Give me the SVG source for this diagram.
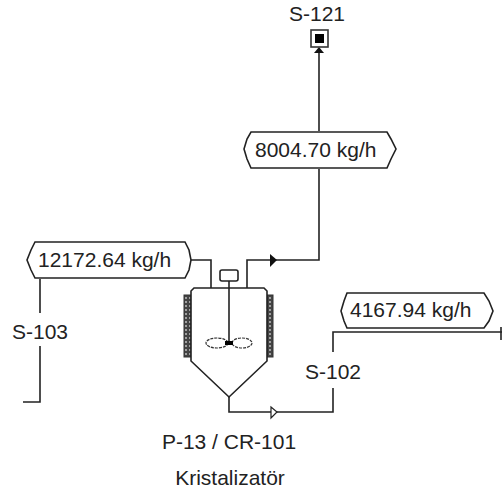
<svg xmlns="http://www.w3.org/2000/svg" width="502" height="493" viewBox="0 0 502 493">
<defs>
<pattern id="coil" width="4" height="4" patternUnits="userSpaceOnUse"><rect width="4" height="4" fill="#444"/><circle cx="2" cy="2" r="0.9" fill="#ccc"/></pattern>
</defs>
<style>
text{font-family:"Liberation Sans",Arial,sans-serif;font-size:21px;fill:#222}
.l{fill:none;stroke:#222;stroke-width:1.6}
.b{fill:#fff;stroke:#222;stroke-width:1.6}
.t{fill:#fff;stroke:#333;stroke-width:1.2;stroke-dasharray:3 1}
</style>
<rect width="502" height="493" fill="#fff"/>
<g id="connectors">
<path class="l" d="M319 53V131M319 169V260H247V288"/>
<path class="l" d="M191 260H211V288"/>
<path class="l" d="M40 279V313M40 346V402H23"/>
<path class="l" d="M229 397V412H333V388M333 352V332H502"/>
<path d="M319 47L324 53H314Z" fill="#111"/>
<path d="M270 254L277 260L270 267Z" fill="#111"/>
<path d="M271 407L277 412L271 418Z" fill="#fff" stroke="#222" stroke-width="1.2"/>
<path class="l" d="M501 327V340"/>
</g>
<g id="S-121">
<rect x="311" y="30" width="17" height="17" fill="#fff" stroke="#333" stroke-width="1.6"/>
<rect x="315" y="34" width="9" height="9" fill="#000"/>
<text x="317" y="21" text-anchor="middle">S-121</text>
</g>
<g id="flow-8004">
<path class="b" d="M251 132H387L391 139L396 149L391 159L387 168H251L247 159L244 149L247 139Z"/>
<text x="255" y="157">8004.70 kg/h</text>
</g>
<g id="flow-12172">
<path class="b" d="M35 242H185L189 250L191 260L189 270L185 278H35L31 270L27 260L31 250Z"/>
<text x="38" y="267">12172.64 kg/h</text>
</g>
<g id="flow-4167">
<path class="b" d="M347 293H484L489 301L493 311L489 321L484 328H347L344 321L341 311L344 301Z"/>
<text x="350" y="317">4167.94 kg/h</text>
</g>
<g id="S-103"><text x="40" y="339" text-anchor="middle">S-103</text></g>
<g id="S-102"><text x="333" y="379" text-anchor="middle">S-102</text></g>
<g id="P-13">
<rect x="184" y="295" width="7" height="62" fill="url(#coil)" stroke="#333" stroke-width="1"/>
<rect x="267" y="295" width="6" height="62" fill="url(#coil)" stroke="#333" stroke-width="1"/>
<path class="b" d="M194 288H264L267 291V361L229 397L191 361V291Z"/>
<path class="l" d="M229 281V343"/>
<rect class="b" x="220" y="270" width="18" height="11" rx="2"/>
<ellipse class="t" cx="217" cy="343" rx="11" ry="5"/>
<ellipse class="t" cx="242" cy="343" rx="10" ry="5"/>
<rect x="225" y="341" width="8" height="4" fill="#000"/>
<text x="229" y="449" text-anchor="middle">P-13 / CR-101</text>
<text x="230" y="485" text-anchor="middle">Kristalizatör</text>
</g>
</svg>
